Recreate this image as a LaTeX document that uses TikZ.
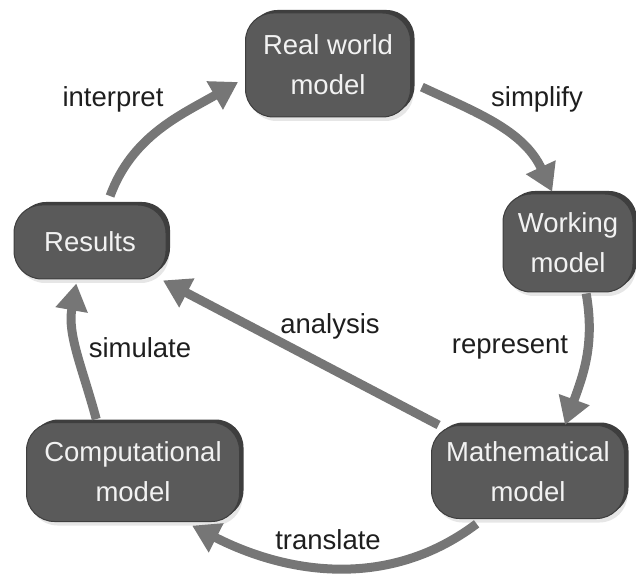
\documentclass[tikz,border=0pt]{standalone}
\usepackage{fontspec}
\setmainfont{Liberation Sans}
\usepackage{xcolor}
\usepackage{tikz}
\usetikzlibrary{positioning,arrows.meta,shadows}

\definecolor{boxgray}{RGB}{90,90,90}
\definecolor{boxedge}{RGB}{62,62,62}
\definecolor{boxtext}{RGB}{242,242,242}
\definecolor{arrowgray}{RGB}{118,118,118}
\definecolor{labelgray}{RGB}{30,30,30}

\begin{document}
\begin{tikzpicture}[x = 1pt, y = 1pt, on grid]
            \tikzstyle{model} = [rectangle, rounded corners = 28pt, fill = boxgray, draw = boxedge, line width = 1pt, text = boxtext, align = center, font = \fontsize{27.5}{40}\selectfont, drop shadow = {shadow xshift = 3pt, shadow yshift = -4pt, opacity = 0.2}, copy shadow = {shadow xshift = 4pt, shadow yshift = 3pt, fill = boxedge, draw = none}];
            \tikzstyle{cyclelabel} = [anchor = base, text = labelgray, font = \fontsize{27.5}{30}\selectfont];
            \tikzstyle{flow} = [-{Triangle[length = 27pt, width = 31pt]}, line width = 9pt, draw = arrowgray];
            \useasboundingbox (0, 0) rectangle (636, 573);

            \node [model, minimum width = 165pt, minimum height = 104pt] (real) at (328, 508) {Real world\\model};
            \node [model, minimum width = 130pt, minimum height = 98pt, below right = 178pt and 240pt of real] (working) {Working\\model};
            \node [model, minimum width = 193pt, minimum height = 93pt, below left = 229pt and 40pt of working] (math) {Mathematical\\model};
            \node [model, minimum width = 213pt, minimum height = 99pt, left = 395pt of math] (comp) {Computational\\model};
            \node [model, minimum width = 152pt, minimum height = 74pt, above left = 230pt and 43pt of comp] (results) {Results};

            \node [cyclelabel] (interpret) at (113, 466) {interpret};
            \node [cyclelabel] (simplify) at (537, 466) {simplify};
            \node [cyclelabel] (represent) at (510, 219) {represent};
            \node [cyclelabel] (analysis) at (330, 240) {analysis};
            \node [cyclelabel] (simulate) at (140, 215) {simulate};
            \node [cyclelabel] (translate) at (328, 24) {translate};

            \draw [flow, shorten <= 9pt, shorten >= 8pt] ([xshift = 17pt]results.north) to [out = 70, in = 210] ([yshift = -13pt]real.west);
            \draw [flow, shorten <= 12pt, shorten >= 2pt] ([yshift = -17pt]real.east) to [out = -25, in = 115] ([xshift = -15pt]working.north);
            \draw [flow, shorten <= 1pt] ([xshift = 18pt]working.south) to [out = -80, in = 70] ([xshift = 37pt]math.north);
            \draw [flow, shorten >= 2pt] (math) -- (results);
            \draw [flow, shorten <= 3pt, shorten >= 4pt] ([xshift = -36pt]comp.north) to [out = 105, in = -100] ([xshift = -13pt]results.south);
            \draw [flow, shorten <= 8pt, shorten >= 8pt] ([xshift = -45pt]math.south) to [out = -143, in = -27] ([xshift = 52pt]comp.south);
\end{tikzpicture}
\end{document}
